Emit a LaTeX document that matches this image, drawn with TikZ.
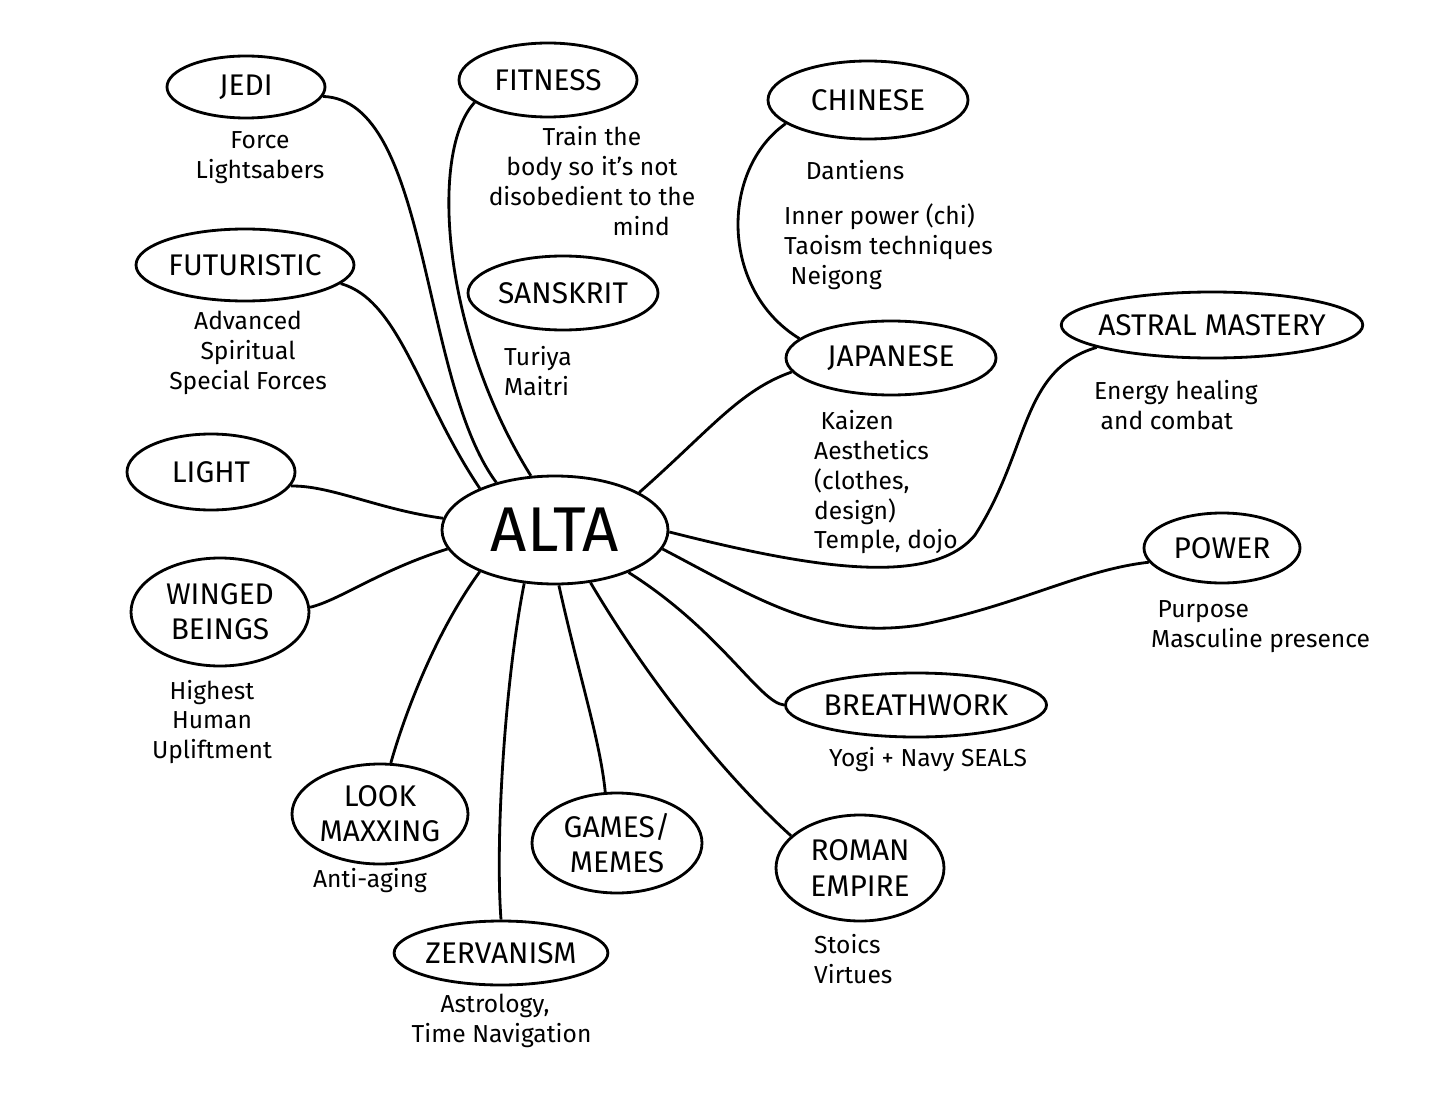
\documentclass[tikz,border=0pt]{standalone}
\usepackage{fontspec}
\setmainfont{Fira Sans}
\usetikzlibrary{shapes.geometric}
\begin{document}
\begin{tikzpicture}[x=0.02cm,y=-0.02cm,
  bub/.style={draw,line width=1.6pt,ellipse,inner sep=0pt,font=\fontsize{17}{20}\selectfont,align=center},
  sub/.style={font=\fontsize{14}{17}\selectfont,align=center},
  subl/.style={font=\fontsize{14}{17}\selectfont,align=left,anchor=north west},
  ln/.style={line width=1.6pt}]
\useasboundingbox (0,0) rectangle (1433,1098);
\node[bub,minimum width=226*0.02cm,minimum height=108*0.02cm,font=\fontsize{36}{40}\selectfont] (alta) at (555,530) {ALTA};
\node[bub,minimum width=158*0.02cm,minimum height=62*0.02cm] (jedi) at (246,87) {JEDI};
\node[bub,minimum width=178*0.02cm,minimum height=74*0.02cm] (fit) at (548,80) {FITNESS};
\node[bub,minimum width=200*0.02cm,minimum height=78*0.02cm] (chi) at (868,100) {CHINESE};
\node[bub,minimum width=218*0.02cm,minimum height=72*0.02cm] (fut) at (245,265) {FUTURISTIC};
\node[bub,minimum width=190*0.02cm,minimum height=74*0.02cm] (san) at (563,293) {SANSKRIT};
\node[bub,minimum width=210*0.02cm,minimum height=74*0.02cm] (jap) at (891,358) {JAPANESE};
\node[bub,minimum width=300*0.02cm,minimum height=66*0.02cm,inner xsep=-4pt] (ast) at (1212,325) {ASTRAL MASTERY};
\node[bub,minimum width=168*0.02cm,minimum height=76*0.02cm] (light) at (211,472) {LIGHT};
\node[bub,minimum width=156*0.02cm,minimum height=70*0.02cm] (pow) at (1222,548) {POWER};
\node[bub,minimum width=178*0.02cm,minimum height=108*0.02cm] (wing) at (220,612) {WINGED\\BEINGS};
\node[bub,minimum width=218*0.02cm,minimum height=64*0.02cm] (br) at (916,705) {BREATHWORK};
\node[bub,minimum width=176*0.02cm,minimum height=100*0.02cm] (look) at (380,814) {LOOK\\MAXXING};
\node[bub,minimum width=170*0.02cm,minimum height=100*0.02cm] (game) at (617,843) {GAMES/\\MEMES};
\node[bub,minimum width=168*0.02cm,minimum height=106*0.02cm] (rom) at (860,868) {ROMAN\\EMPIRE};
\node[bub,minimum width=190*0.02cm,minimum height=64*0.02cm] (zer) at (501,953) {ZERVANISM};

\node[sub] (t1) at (260,158) {Force\\Lightsabers};
\node[sub] (t2) at (592,181) {Train the\\body so it's not\\disobedient to the\\\hspace*{4em}mind};
\node[sub] (t3a) at (855,170) {Dantiens};
\node[subl] (t3) at (778,198) {Inner power (chi)\\Taoism techniques\\\ Neigong};
\node[sub] (t4) at (248,353) {Advanced\\Spiritual\\Special Forces};
\node[subl] (t5) at (498,340) {Turiya\\Maitri};
\node[subl] (t6) at (808,404) {\ Kaizen\\Aesthetics\\(clothes,\\design)\\Temple, dojo};
\node[subl] (t7) at (1088,374) {Energy healing\\\ and combat};
\node[subl] (t8) at (1145,594) {\ Purpose\\Masculine presence};
\node[sub] (t9) at (212,722) {Highest\\Human\\Upliftment};
\node[sub] (t10) at (928,760) {Yogi + Navy SEALS};
\node[sub] (t11) at (370,881) {Anti-aging};
\node[subl] (t12) at (808,928) {Stoics\\Virtues};
\node[sub] (t13) at (495,1021) {Astrology,\\\ \ Time Navigation};

\draw[ln] (alta.141) .. controls (420,380) and (430,100) .. (jedi.-7);
\draw[ln] (alta.114) .. controls (440,330) and (430,150) .. (fit.-163);
\draw[ln] (alta.151) .. controls (420,400) and (400,300) .. (fut.-11);
\draw[ln] (alta.174) .. controls (380,510) and (330,485) .. (light.-10);
\draw[ln] (alta.-170) .. controls (380,570) and (340,600) .. (wing.3);
\draw[ln] (alta.-151) .. controls (430,640) and (400,730) .. (look.78);
\draw[ln] (alta.-120) .. controls (505,680) and (495,840) .. (zer.90);
\draw[ln] (alta.-86) .. controls (580,680) and (600,740) .. (game.103);
\draw[ln] (alta.-56) .. controls (660,700) and (740,790) .. (rom.155);
\draw[ln] (alta.-30) .. controls (720,630) and (760,703) .. (br.180);
\draw[ln] (alta.-10) .. controls (760,600) and (820,640) .. (920,625) .. controls (1020,605) and (1080,570) .. (pow.-169);
\draw[ln] (alta.-1) .. controls (800,565) and (930,590) .. (975,535) .. controls (1030,450) and (1020,370) .. (ast.-169);
\draw[ln] (alta.24) .. controls (710,430) and (740,390) .. (jap.-172);
\draw[ln] (chi.-164) .. controls (720,170) and (720,290) .. (jap.168);
\end{tikzpicture}
\end{document}
